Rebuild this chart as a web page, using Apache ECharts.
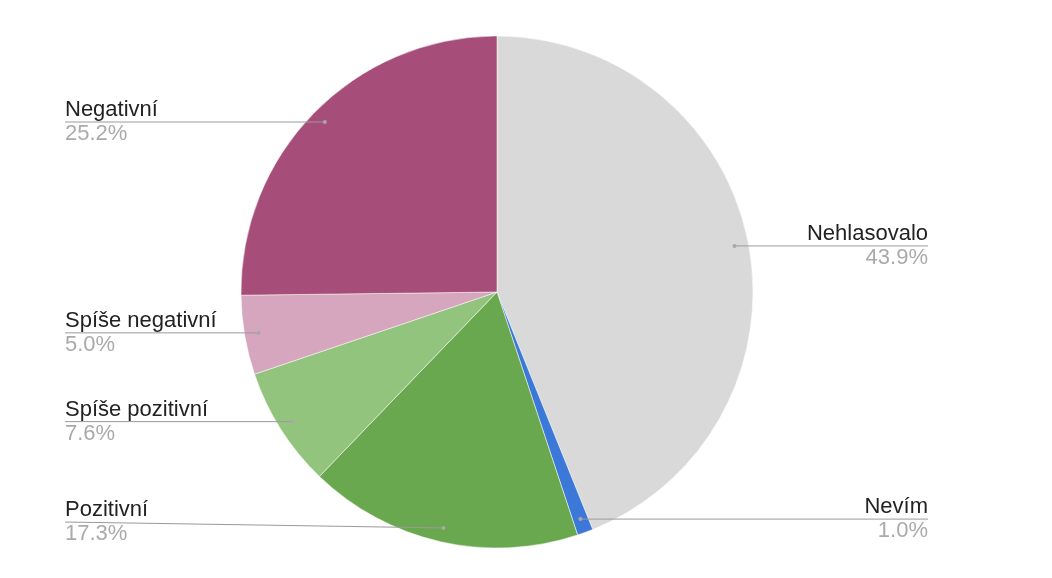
<!DOCTYPE html>
<html>
<head>
<meta charset="utf-8">
<script src="https://cdn.jsdelivr.net/npm/echarts@6/dist/echarts.min.js"></script>
<style>html,body{margin:0;padding:0;background:#fff}#c{width:1052px;height:578px}</style>
</head>
<body>
<div id="c"></div>
<script>
const categories = ['Nehlasovalo', 'Nevím', 'Pozitivní', 'Spíše pozitivní', 'Spíše negativní', 'Negativní'];
const values = [43.9, 1.0, 17.3, 7.6, 5.0, 25.2];
const colors = ['#d9d9d9', '#3c78d8', '#6aa84f', '#93c47d', '#d5a6bd', '#a64d79'];

const CX = 497, CY = 292, R = 256, K = 0.945;
const LEFT_EDGE = 65, RIGHT_EDGE = 928, BOTTOM_LIMIT = 522;
const total = values.reduce((a, b) => a + b, 0);
const cum = [];
values.reduce((acc, v, i) => { cum[i] = acc; return acc + v; }, 0);
const midPct = values.map((v, i) => (cum[i] + v / 2) / total * 100);

const FONT = 'Liberation Sans, Arial, sans-serif';
const chart = echarts.init(document.getElementById('c'), null, { renderer: 'canvas' });
chart.setOption({
  backgroundColor: '#fff',
  animation: false,
  polar: { center: [CX, CY], radius: R },
  angleAxis: { type: 'value', min: 0, max: 100, startAngle: 90, clockwise: true, show: false },
  radiusAxis: { type: 'value', min: 0, max: 1, show: false },
  series: [
    {
      type: 'pie',
      center: [CX, CY],
      radius: R,
      startAngle: 90,
      clockwise: true,
      avoidLabelOverlap: false,
      z: 2,
      data: categories.map((n, i) => ({ name: n, value: values[i], itemStyle: { color: colors[i] } })),
      itemStyle: { borderColor: '#fff', borderWidth: 0.5 },
      label: {
        show: true,
        position: 'outside',
        formatter: p => '{n|' + p.name + '}\n{p|' + p.value.toFixed(1) + '%}',
        rich: {
          n: { fontFamily: FONT, fontSize: 22, color: '#222', lineHeight: 24 },
          p: { fontFamily: FONT, fontSize: 22, color: '#aaa', lineHeight: 24 }
        }
      },
      labelLine: { show: false },
      labelLayout: function (p) {
        const i = p.dataIndex;
        const a = midPct[i] / 100 * Math.PI * 2;
        const dx = Math.sin(a), dy = -Math.cos(a);
        const py = CY + dy * R * K;
        const left = dx < 0;
        return {
          x: left ? LEFT_EDGE : RIGHT_EDGE,
          y: Math.min(py, BOTTOM_LIMIT),
          align: left ? 'left' : 'right',
          verticalAlign: 'middle'
        };
      },
      emphasis: { disabled: true }
    },
    {
      type: 'custom',
      coordinateSystem: 'polar',
      silent: true,
      z: 10,
      data: midPct.map(m => [K, m]),
      renderItem: function (params, api) {
        const pt = api.coord([api.value(0), api.value(1)]);
        const left = pt[0] < CX;
        const ex = left ? LEFT_EDGE : RIGHT_EDGE;
        const ly = Math.min(pt[1], BOTTOM_LIMIT);
        return {
          type: 'group',
          children: [
            { type: 'polyline', shape: { points: [pt, [ex, ly]] }, style: { stroke: '#9a9a9a', lineWidth: 1, fill: null } },
            { type: 'circle', shape: { cx: pt[0], cy: pt[1], r: 2 }, style: { fill: '#a8a8a8' } }
          ]
        };
      }
    }
  ]
});
</script>
</body>
</html>
